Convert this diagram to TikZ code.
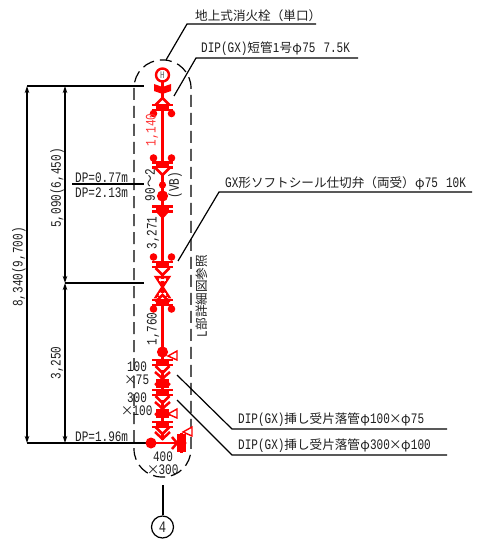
\documentclass[tikz,border=0pt]{standalone}
\usepackage{fontspec}
\usetikzlibrary{arrows.meta}
\newfontfamily\jp{Noto Sans CJK JP}
\newfontfamily\mn[FakeStretch=0.76]{Liberation Mono}
\newcommand{\J}[1]{{\fontsize{12.6}{13}\selectfont\jp #1}}
\newcommand{\Ph}{\makebox[10pt]{\fontsize{12.6}{13}\selectfont\jp φ}}
\newcommand{\Tm}{\makebox[11pt]{\fontsize{12.6}{13}\selectfont\jp ×}}
\tikzset{
  txt/.style={inner sep=0pt,font=\fontsize{14.5}{13}\selectfont\mn,text=black!88},
  lead/.style={draw=black,line width=1.2pt},
  dimline/.style={draw=black,line width=1.2pt,{Stealth[length=7pt,width=4.5pt]}-{Stealth[length=7pt,width=4.5pt]}},
  extline/.style={draw=black,line width=1.2pt},
  rp/.style={draw=red,line width=2.5pt},
  rt/.style={draw=red,line width=1.4pt},
  rf/.style={fill=red},
  pics/flbars/.style={code={
    \draw[rp] (-10.5,-2.4)--(10.5,-2.4) (-10.5,2.4)--(10.5,2.4);
    \fill[rf] (-6.5,-3.5) rectangle (6.5,3.5);}},
  pics/vee/.style={code={\draw[rp] (-7,0)--(0,7)--(7,0);}},
  pics/caret/.style={code={\draw[rp] (-7,0)--(0,-7)--(7,0);}},
  pics/twodots/.style={code={\fill[rf] (-9,0) circle (3.8) (9,0) circle (3.8);}},
  pics/flagmark/.style={code={\draw[rt,fill=white] (-5,0)--(4,-5)--(4,4)--cycle;}},
}
\begin{document}
\begin{tikzpicture}[x=1pt,y=-1pt]
\useasboundingbox (0,0) rectangle (478,540);
\fill[white] (0,0) rectangle (478,540);

% capsule
\draw[black,line width=1.2pt,dash pattern=on 12pt off 6pt,rounded corners=28pt]
  (134,60) rectangle (191,477);

% dimension coordinates
\coordinate (t1) at (27,86); \coordinate (b1) at (27,443);
\coordinate (t2) at (65,86); \coordinate (m2) at (65,283); \coordinate (b2) at (65,443);
\coordinate (t3) at (144,86); \coordinate (m3) at (144,283); \coordinate (b3) at (150,443);
\draw[extline] (t1)--(t3) (m2)--(m3) (b1)--(b3);
\draw[dimline] (t1)--(b1);
\draw[dimline] (t2)--(m2);
\draw[dimline] (m2)--(b2);
\coordinate (dpa) at (72,184); \coordinate (dpb) at (144,184);
\draw[extline] (dpa)--(dpb);

% dimension text
\node[txt,rotate=90] (d8340) at (19,267) {8,340(9,700)};
\node[txt,rotate=90] (d5090) at (57,188) {5,090(6,450)};
\node[txt,rotate=90] (d3250) at (57,363) {3,250};
\node[txt,anchor=west] (dp1) at (75,178) {DP=0.77m};
\node[txt,anchor=west] (dp2) at (75,193) {DP=2.13m};
\node[txt,anchor=west] (dp3) at (75,437) {DP=1.96m};

% pipe
\draw[red,line width=2.8pt] (162.5,81)--(162.5,440);
\draw[red,line width=2.8pt] (150,443)--(176,443);

% hydrant
\draw[red,line width=2.4pt,fill=white] (162.5,75) circle (6.5);
\node[inner sep=0pt,font=\fontsize{10}{10}\selectfont\mn,text=black!60] (hh) at (162.5,75) {H};
\fill[rf] (162.5,94)--(154,91)--(154,84)--(162.5,87)--(171,84)--(171,91)--cycle;

% upper valve group
\fill[white] (157,98) rectangle (168,105);
\pic at (162.5,105) {caret};
\pic at (162.5,107.5) {flbars};
\pic at (162.5,113.5) {twodots};
\pic at (162.5,158) {twodots};
\pic at (162.5,165) {flbars};
\fill[white] (157,168.5) rectangle (168,173);
\pic at (162.5,168) {vee};
\fill[rf] (162.5,185) circle (3.6);
\fill[rf] (162.5,196) circle (5.6);
\pic at (162.5,209) {flbars};
\fill[rf] (155,211)--(170,211)--(162.5,219)--cycle;

% middle valve group
\pic at (162.5,257) {twodots};
\pic at (162.5,264.5) {flbars};
\fill[white] (157,268) rectangle (168,273);
\pic at (162.5,268) {vee};
\draw[rp] (156,277)--(169,277)--(156,297)--(169,297)--cycle;
\fill[white] (159,279) rectangle (166,281);
\fill[white] (159,293) rectangle (166,295);
\fill[white] (157,296.5) rectangle (168,300);
\pic at (162.5,302) {caret};
\pic at (162.5,302.5) {flbars};
\pic at (162.5,309) {twodots};

% lower valve group
\fill[rf] (162.5,352) circle (5.6);
\pic at (173,356) {flagmark};
\pic at (162.5,362.5) {flbars};
\fill[white] (157,366) rectangle (168,370);
\pic at (162.5,366) {vee};
\draw[rp] (155,372)--(170,385) (170,372)--(155,385);
\fill[rf] (156,379) rectangle (169,388);
\pic at (162.5,392.5) {flbars};
\fill[white] (157,396) rectangle (168,400);
\pic at (162.5,396) {vee};
\draw[rp] (155,402)--(170,415) (170,402)--(155,415);
\fill[rf] (156,409) rectangle (169,418);
\pic at (173,414) {flagmark};
\pic at (162.5,424.5) {flbars};
\fill[white] (157,428) rectangle (168,432);
\pic at (162.5,427) {vee};
\draw[rp] (155,432)--(162.5,439)--(170,432);

% bottom branch
\fill[rf] (151,443) circle (5.5);
\draw[rp] (172,437)--(177,443)--(172,449);
\draw[rp] (178.5,434)--(178.5,452) (181.5,433)--(181.5,453) (184.5,434)--(184.5,452);
\fill[rf] (181.5,443) circle (5);
\pic at (188,432) {flagmark};

% labels along pipe
\node[txt,rotate=90,text=red!80] (l1140) at (152,130) {1,140};
\node[txt,rotate=90] (l90) at (150,185) {90\J{～}2};
\node[txt,rotate=90] (lvb) at (175,185) {(VB)};
\node[txt,rotate=90] (l3271) at (153,233) {3,271};
\node[txt,rotate=90] (l1760) at (153,329) {1,760};
\node[txt,rotate=90] (ldet) at (202,296) {L\J{部詳細図参照}};
\node[txt,align=center] (r1) at (137,373) {100\\\Tm 75};
\node[txt,align=center] (r2) at (137,404) {300\\\Tm 100};
\node[txt,align=center] (r3) at (163,463.5) {400\\\Tm 300};

% leaders
\node[txt,anchor=south west] (n1) at (195,22) {\J{地上式消火栓（単口）}};
\coordinate (a1) at (166,60); \coordinate (c1) at (187,24); \coordinate (e1) at (316,24);
\draw[lead] (a1)--(c1)--(e1);

\node[txt,anchor=south west] (n2) at (201,55.5) {DIP(GX)\J{短管1号}\Ph 75\hspace{8pt}7.5K};
\coordinate (a2) at (174,96); \coordinate (c2) at (196,58); \coordinate (e2) at (358,58);
\draw[lead] (a2)--(c2)--(e2);

\node[txt,anchor=south west] (n3) at (225,190) {GX\J{形ソフトシール仕切弁（両受）}\Ph 75\hspace{8pt}10K};
\coordinate (a3) at (178,261); \coordinate (c3) at (219,192); \coordinate (e3) at (472,192);
\draw[lead] (a3)--(c3)--(e3);

\node[txt,anchor=south west] (n4) at (238,427) {DIP(GX)\J{挿し受片落管}\Ph 100\Tm\Ph 75};
\coordinate (a4) at (177,375); \coordinate (c4) at (232,429); \coordinate (e4) at (447,429);
\draw[lead] (a4)--(c4)--(e4);

\node[txt,anchor=south west] (n5) at (238,453) {DIP(GX)\J{挿し受片落管}\Ph 300\Tm\Ph 100};
\coordinate (a5) at (177,400); \coordinate (c5) at (232,455); \coordinate (e5) at (447,455);
\draw[lead] (a5)--(c5)--(e5);

% bottom reference
\node[draw=black,line width=1.2pt,circle,minimum size=22pt,inner sep=0pt,font=\fontsize{16}{16}\selectfont\mn,text=black!85] (ref) at (162.5,527) {4};
\coordinate (rt) at (163,485);
\draw[lead] (rt)--(rt|-ref.north);
\end{tikzpicture}
\end{document}
